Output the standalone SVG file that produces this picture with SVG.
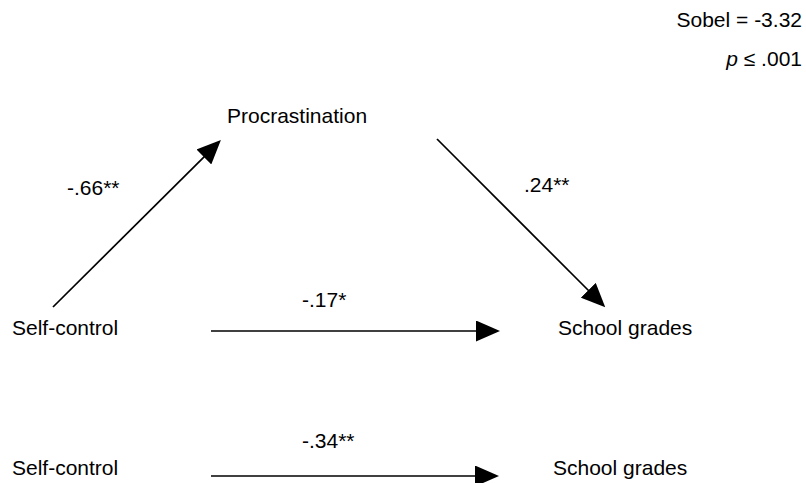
<svg xmlns="http://www.w3.org/2000/svg" width="806" height="483" viewBox="0 0 806 483">
  <style>
    text { font-family: "Liberation Sans", Arial, sans-serif; font-size: 21px; fill: #000; }
    .conn { stroke: #000; stroke-width: 1.7; fill: none; marker-end: url(#arrow); }
  </style>
  <defs>
    <marker id="arrow" markerUnits="userSpaceOnUse" markerWidth="24" markerHeight="21" refX="1" refY="10.5" orient="auto">
      <path d="M0,0 L24,10.5 L0,21 z" fill="#000"/>
    </marker>
  </defs>
  <rect width="806" height="483" fill="#fff"/>
  <g id="stats">
    <text x="802" y="27" text-anchor="end">Sobel = -3.32</text>
    <text x="802" y="66" text-anchor="end"><tspan font-style="italic">p</tspan> ≤ .001</text>
  </g>
  <g id="procrastination"><text x="227" y="123">Procrastination</text></g>
  <g id="self-control-1"><text x="12" y="335">Self-control</text></g>
  <g id="school-grades-1"><text x="558" y="335">School grades</text></g>
  <g id="self-control-2"><text x="12" y="475">Self-control</text></g>
  <g id="school-grades-2"><text x="553" y="475">School grades</text></g>
  <g id="connectors">
    <line class="conn" x1="53" y1="307" x2="204.6" y2="156.3"/>
    <line class="conn" x1="437" y1="139" x2="589" y2="291"/>
    <line class="conn" x1="211" y1="331" x2="477" y2="331"/>
    <line class="conn" x1="211" y1="476" x2="476" y2="476"/>
    <text x="67" y="195">-.66**</text>
    <text x="524" y="192">.24**</text>
    <text x="302" y="307">-.17*</text>
    <text x="302" y="448">-.34**</text>
  </g>
</svg>
